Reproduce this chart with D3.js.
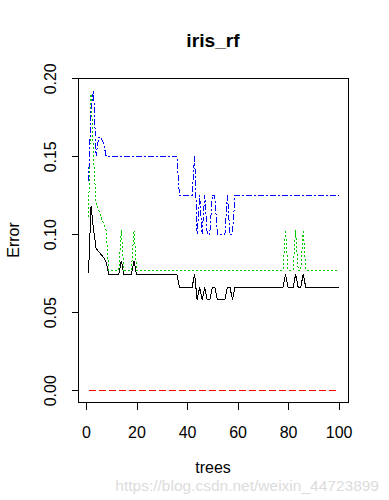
<!DOCTYPE html>
<html><head><meta charset="utf-8">
<script src="https://cdn.jsdelivr.net/npm/d3@7"></script>
<style>body{margin:0;background:#fff}svg{display:block}text{font-family:"Liberation Sans",Arial,sans-serif}</style>
</head><body>
<svg id="c" width="389" height="500"></svg>
<script>
const title = "iris_rf";
const xLabel = "trees";
const yLabel = "Error";
const xTicks = [0, 20, 40, 60, 80, 100];
const yTicks = [0.00, 0.05, 0.10, 0.15, 0.20];
const yTickLabels = ["0.00", "0.05", "0.10", "0.15", "0.20"];
const nTrees = 100;
const seriesNames = ["OOB", "setosa", "versicolor", "virginica"];
const seriesColors = ["#000000", "#ff0000", "#00cd00", "#0000ff"];

const oob = [0.075,0.118,0.103,0.091,0.089,0.087,0.085,0.082,0.0744,0.0744,
0.0744,0.0744,0.0744,0.083,0.0744,0.0744,0.0744,0.0744,0.083,0.0744,
0.0744,0.0744,0.0744,0.0744,0.0744,0.0744,0.0744,0.0744,0.0744,0.0744,
0.0744,0.0744,0.0744,0.0744,0.0744,0.0744,0.066,0.066,0.066,0.066,
0.066,0.066,0.0744,0.058,0.066,0.058,0.066,0.058,0.058,0.066,
0.066,0.058,0.058,0.058,0.058,0.066,0.066,0.058,0.066,0.066,
0.066,0.066,0.066,0.066,0.066,0.066,0.066,0.066,0.066,0.066,
0.066,0.066,0.066,0.066,0.066,0.066,0.066,0.066,0.0744,0.066,
0.066,0.066,0.0744,0.066,0.066,0.0744,0.066,0.066,0.066,0.066,
0.066,0.066,0.066,0.066,0.066,0.066,0.066,0.066,0.066,0.066];

const setosa = [0,0,0,0,0,0,0,0,0,0, 0,0,0,0,0,0,0,0,0,0,
0,0,0,0,0,0,0,0,0,0, 0,0,0,0,0,0,0,0,0,0,
0,0,0,0,0,0,0,0,0,0, 0,0,0,0,0,0,0,0,0,0,
0,0,0,0,0,0,0,0,0,0, 0,0,0,0,0,0,0,0,0,0,
0,0,0,0,0,0,0,0,0,0, 0,0,0,0,0,0,0,0,0,0];

const versicolor = [0.111,0.19,0.15,0.119,0.1156,0.111,0.1066,0.1027,0.077,0.077,
0.077,0.077,0.077,0.1027,0.077,0.077,0.077,0.077,0.1027,0.077,
0.077,0.077,0.077,0.077,0.077,0.077,0.077,0.077,0.077,0.077,
0.077,0.077,0.077,0.077,0.077,0.077,0.077,0.077,0.077,0.077,
0.077,0.077,0.077,0.077,0.077,0.077,0.077,0.077,0.077,0.077,
0.077,0.077,0.077,0.077,0.077,0.077,0.077,0.077,0.077,0.077,
0.077,0.077,0.077,0.077,0.077,0.077,0.077,0.077,0.077,0.077,
0.077,0.077,0.077,0.077,0.077,0.077,0.077,0.077,0.1027,0.077,
0.077,0.077,0.1027,0.077,0.077,0.1027,0.077,0.077,0.077,0.077,
0.077,0.077,0.077,0.077,0.077,0.077,0.077,0.077,0.077,0.077];

const virginica = [0.134,0.18,0.1925,0.15,0.162,0.162,0.158,0.15,0.15,0.15,
0.15,0.15,0.15,0.15,0.15,0.15,0.15,0.15,0.15,0.15,
0.15,0.15,0.15,0.15,0.15,0.15,0.15,0.15,0.15,0.15,
0.15,0.15,0.15,0.15,0.15,0.15,0.125,0.125,0.125,0.125,
0.125,0.125,0.15,0.10,0.125,0.10,0.125,0.10,0.10,0.125,
0.125,0.10,0.10,0.10,0.10,0.125,0.10,0.10,0.125,0.125,
0.125,0.125,0.125,0.125,0.125,0.125,0.125,0.125,0.125,0.125,
0.125,0.125,0.125,0.125,0.125,0.125,0.125,0.125,0.125,0.125,
0.125,0.125,0.125,0.125,0.125,0.125,0.125,0.125,0.125,0.125,
0.125,0.125,0.125,0.125,0.125,0.125,0.125,0.125,0.125,0.125];

const series = [oob, setosa, versicolor, virginica];
const dashes = [null, "7,3", "2,2", "6,2,2,2"];

const svg = d3.select("#c");
svg.append("rect").attr("width",389).attr("height",500).attr("fill","#fff");

const x = d3.scaleLinear().domain([-2.96, 103.96]).range([78.5, 348.6]);
const y = d3.scaleLinear().domain([-0.0077, 0.2002]).range([402.3, 78]);

// box
svg.append("rect").attr("x",78.5).attr("y",78.5).attr("width",270).attr("height",324)
  .attr("fill","none").attr("stroke","#000").attr("stroke-width",1).attr("shape-rendering","crispEdges");

// x axis
const gx = svg.append("g").attr("transform","translate(0,402.5)")
  .call(d3.axisBottom(x).tickValues(xTicks).tickSize(7).tickPadding(20).tickFormat(d3.format("d")));
gx.select(".domain").remove();
gx.selectAll("line").attr("stroke","#000").attr("shape-rendering","crispEdges");
gx.selectAll("text").attr("font-size",16).attr("fill","#000").attr("dy",null).attr("y",35)
  .style("font-family","'Liberation Sans',Arial,sans-serif");

// y axis
const gy = svg.append("g").attr("transform","translate(78.5,0)")
  .call(d3.axisLeft(y).tickValues(yTicks).tickSize(7).tickFormat((d,i)=>yTickLabels[i]));
gy.select(".domain").remove();
gy.selectAll("line").attr("stroke","#000").attr("shape-rendering","crispEdges");
gy.selectAll(".tick text")
  .attr("x",null).attr("dy",null)
  .attr("text-anchor","middle")
  .attr("transform","translate(-23,0) rotate(-90)")
  .attr("font-size",16).attr("fill","#000")
  .style("font-family","'Liberation Sans',Arial,sans-serif");

// lines
const line = d3.line().x((d,i)=>x(i+1)).y(d=>y(d));
series.forEach((s,k)=>{
  const p = svg.append("path").datum(s).attr("d",line)
    .attr("fill","none").attr("stroke",seriesColors[k]).attr("stroke-width",1)
    .attr("shape-rendering","crispEdges");
  if (dashes[k]) p.attr("stroke-dasharray",dashes[k]);
});

// titles
svg.append("text").attr("x",213).attr("y",47).attr("text-anchor","middle")
  .attr("font-size",19.2).attr("font-weight","bold").text(title);
svg.append("text").attr("x",213).attr("y",473).attr("text-anchor","middle")
  .attr("font-size",16).text(xLabel);
svg.append("text").attr("transform","translate(19,240) rotate(-90)").attr("text-anchor","middle")
  .attr("font-size",16).text(yLabel);

// watermark
svg.append("text").attr("x",379).attr("y",491).attr("text-anchor","end")
  .attr("font-size",15.5).attr("fill","#dcdcdc").text("https://blog.csdn.net/weixin_44723899");
</script>
</body></html>
